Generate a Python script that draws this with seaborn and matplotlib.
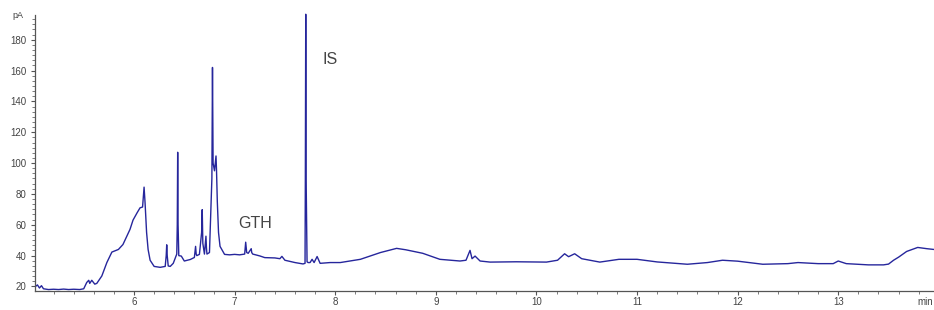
import matplotlib
matplotlib.use("Agg")
import matplotlib.pyplot as plt
import seaborn as sns
import pandas as pd
from matplotlib.ticker import MultipleLocator

# retention time (min)
time_min = [
    5.02, 5.04, 5.06, 5.08, 5.10, 5.15, 5.20, 5.25, 5.30, 5.35, 5.40, 5.46,
    5.50, 5.53, 5.55, 5.56, 5.58, 5.61, 5.63, 5.68, 5.73, 5.78, 5.845, 5.89,
    5.96, 5.99, 6.03, 6.06, 6.085, 6.10, 6.11, 6.125, 6.14, 6.16, 6.20, 6.26,
    6.31, 6.32, 6.325, 6.33, 6.34, 6.36, 6.39, 6.425, 6.43, 6.434, 6.438,
    6.445, 6.47, 6.50, 6.56, 6.60, 6.612, 6.618, 6.624, 6.65, 6.672, 6.678,
    6.684, 6.70, 6.715, 6.72, 6.725, 6.75, 6.774, 6.78, 6.786, 6.80, 6.815,
    6.82, 6.828, 6.84, 6.855, 6.90, 6.95, 7.00, 7.05, 7.10, 7.11, 7.12,
    7.135, 7.165, 7.17, 7.18, 7.25, 7.30, 7.40, 7.45, 7.47, 7.50, 7.60, 7.68,
    7.70, 7.703, 7.707, 7.711, 7.716, 7.72, 7.73, 7.75, 7.77, 7.79, 7.82,
    7.85, 7.95, 8.05, 8.25, 8.45, 8.61, 8.70, 8.87, 9.04, 9.24, 9.30, 9.34,
    9.36, 9.39, 9.44, 9.54, 9.80, 10.10, 10.21, 10.28, 10.32, 10.38, 10.45,
    10.63, 10.82, 11.00, 11.20, 11.50, 11.70, 11.85, 12.00, 12.25, 12.50,
    12.60, 12.80, 12.95, 13.00, 13.08, 13.30, 13.45, 13.50, 13.55, 13.60,
    13.68, 13.79, 13.88, 13.95,
]
# detector signal (pA)
signal_pA = [
    20.0, 21.0, 19.0, 20.5, 18.5, 18.0, 18.2, 18.0, 18.3, 18.0, 18.2, 18.0,
    18.5, 22.6, 24.0, 22.0, 24.0, 21.5, 22.0, 26.8, 35.5, 42.3, 44.0, 47.2,
    57.0, 63.0, 67.7, 71.0, 71.5, 84.4, 74.0, 55.0, 44.0, 37.0, 33.0, 32.4,
    33.0, 40.0, 47.0, 40.0, 33.3, 33.0, 35.0, 41.0, 60.0, 107.0, 60.0,
    40.0, 39.7, 36.5, 37.5, 38.8, 46.0, 41.0, 40.0, 40.8, 55.0, 69.8,
    48.0, 41.0, 52.6, 45.0, 41.0, 42.0, 90.0, 162.0, 100.0, 95.0, 104.6,
    95.5, 75.0, 55.0, 46.0, 40.8, 40.5, 40.8, 40.5, 41.0, 48.7, 42.0,
    41.5, 44.5, 42.0, 41.0, 39.8, 38.7, 38.5, 38.0, 39.5, 37.0, 35.5, 34.6,
    35.0, 89.0, 196.5, 89.0, 60.0, 36.0, 35.5, 35.5, 37.6, 35.5, 39.4,
    35.0, 35.5, 35.5, 37.6, 42.0, 44.7, 43.8, 41.5, 37.6, 36.5, 37.0, 43.4,
    38.0, 39.7, 36.5, 35.8, 36.0, 35.8, 37.0, 41.2, 39.3, 41.2, 38.0,
    35.8, 37.6, 37.6, 35.9, 34.4, 35.5, 37.0, 36.4, 34.4, 34.8,
    35.5, 34.8, 34.8, 36.5, 34.8, 34.0, 34.0, 34.5, 37.0, 39.0,
    42.7, 45.3, 44.5, 44.0,
]
y_ticks = [20, 40, 60, 80, 100, 120, 140, 160, 180]
x_ticks = [6, 7, 8, 9, 10, 11, 12, 13]
peak_labels = ["GTH", "IS"]
label_pos_t = [7.20, 7.95]
label_pos_v = [60.8, 167.0]

df = pd.DataFrame({"time": time_min, "signal": signal_pA})

sns.set_style("white")
plt.rcParams["font.family"] = ["Liberation Sans", "DejaVu Sans"]

fig = plt.figure(figsize=(9.34, 3.10), dpi=100)
ax = fig.add_axes([0.0375, 0.061, 0.9625, 0.8906])

sns.lineplot(data=df, x="time", y="signal", ax=ax, color="#26269c",
             linewidth=1.0, sort=False)
for ln in ax.get_lines():
    ln.set_clip_on(False)

ax.set_xlim(5.016, 13.952)
ax.set_ylim(17, 196)
ax.set_xlabel("")
ax.set_ylabel("")

ax.set_xticks(x_ticks)
ax.set_yticks(y_ticks)
ax.xaxis.set_minor_locator(MultipleLocator(0.2))
ax.yaxis.set_minor_locator(MultipleLocator(20 / 6))

for side in ["top", "right"]:
    ax.spines[side].set_visible(False)
for side in ["left", "bottom"]:
    ax.spines[side].set_color("#555555")
    ax.spines[side].set_linewidth(0.9)

ax.tick_params(axis="both", which="major", direction="out", length=3,
               width=0.8, color="#555555", labelsize=7, labelcolor="#444444")
ax.tick_params(axis="x", which="major", pad=1.5)
ax.tick_params(axis="y", which="major", pad=3)
ax.tick_params(axis="both", which="minor", direction="out", length=2,
               width=0.6, color="#666666")
ax.tick_params(axis="y", which="both", left=True)
ax.tick_params(axis="x", which="both", bottom=True)

ax.annotate("pA", xy=(0, 1), xycoords="axes fraction", xytext=(-12, 0),
            textcoords="offset points", ha="center", va="center",
            fontsize=6.5, color="#444444")
ax.annotate("min", xy=(1, 0), xycoords="axes fraction", xytext=(-6, -8),
            textcoords="offset points", ha="center", va="center",
            fontsize=7, color="#444444", annotation_clip=False)

for lab, tx, ty in zip(peak_labels, label_pos_t, label_pos_v):
    ax.text(tx, ty, lab, ha="center", va="center", fontsize=11.5,
            color="#444444")

fig.savefig("out.png", dpi=100)
